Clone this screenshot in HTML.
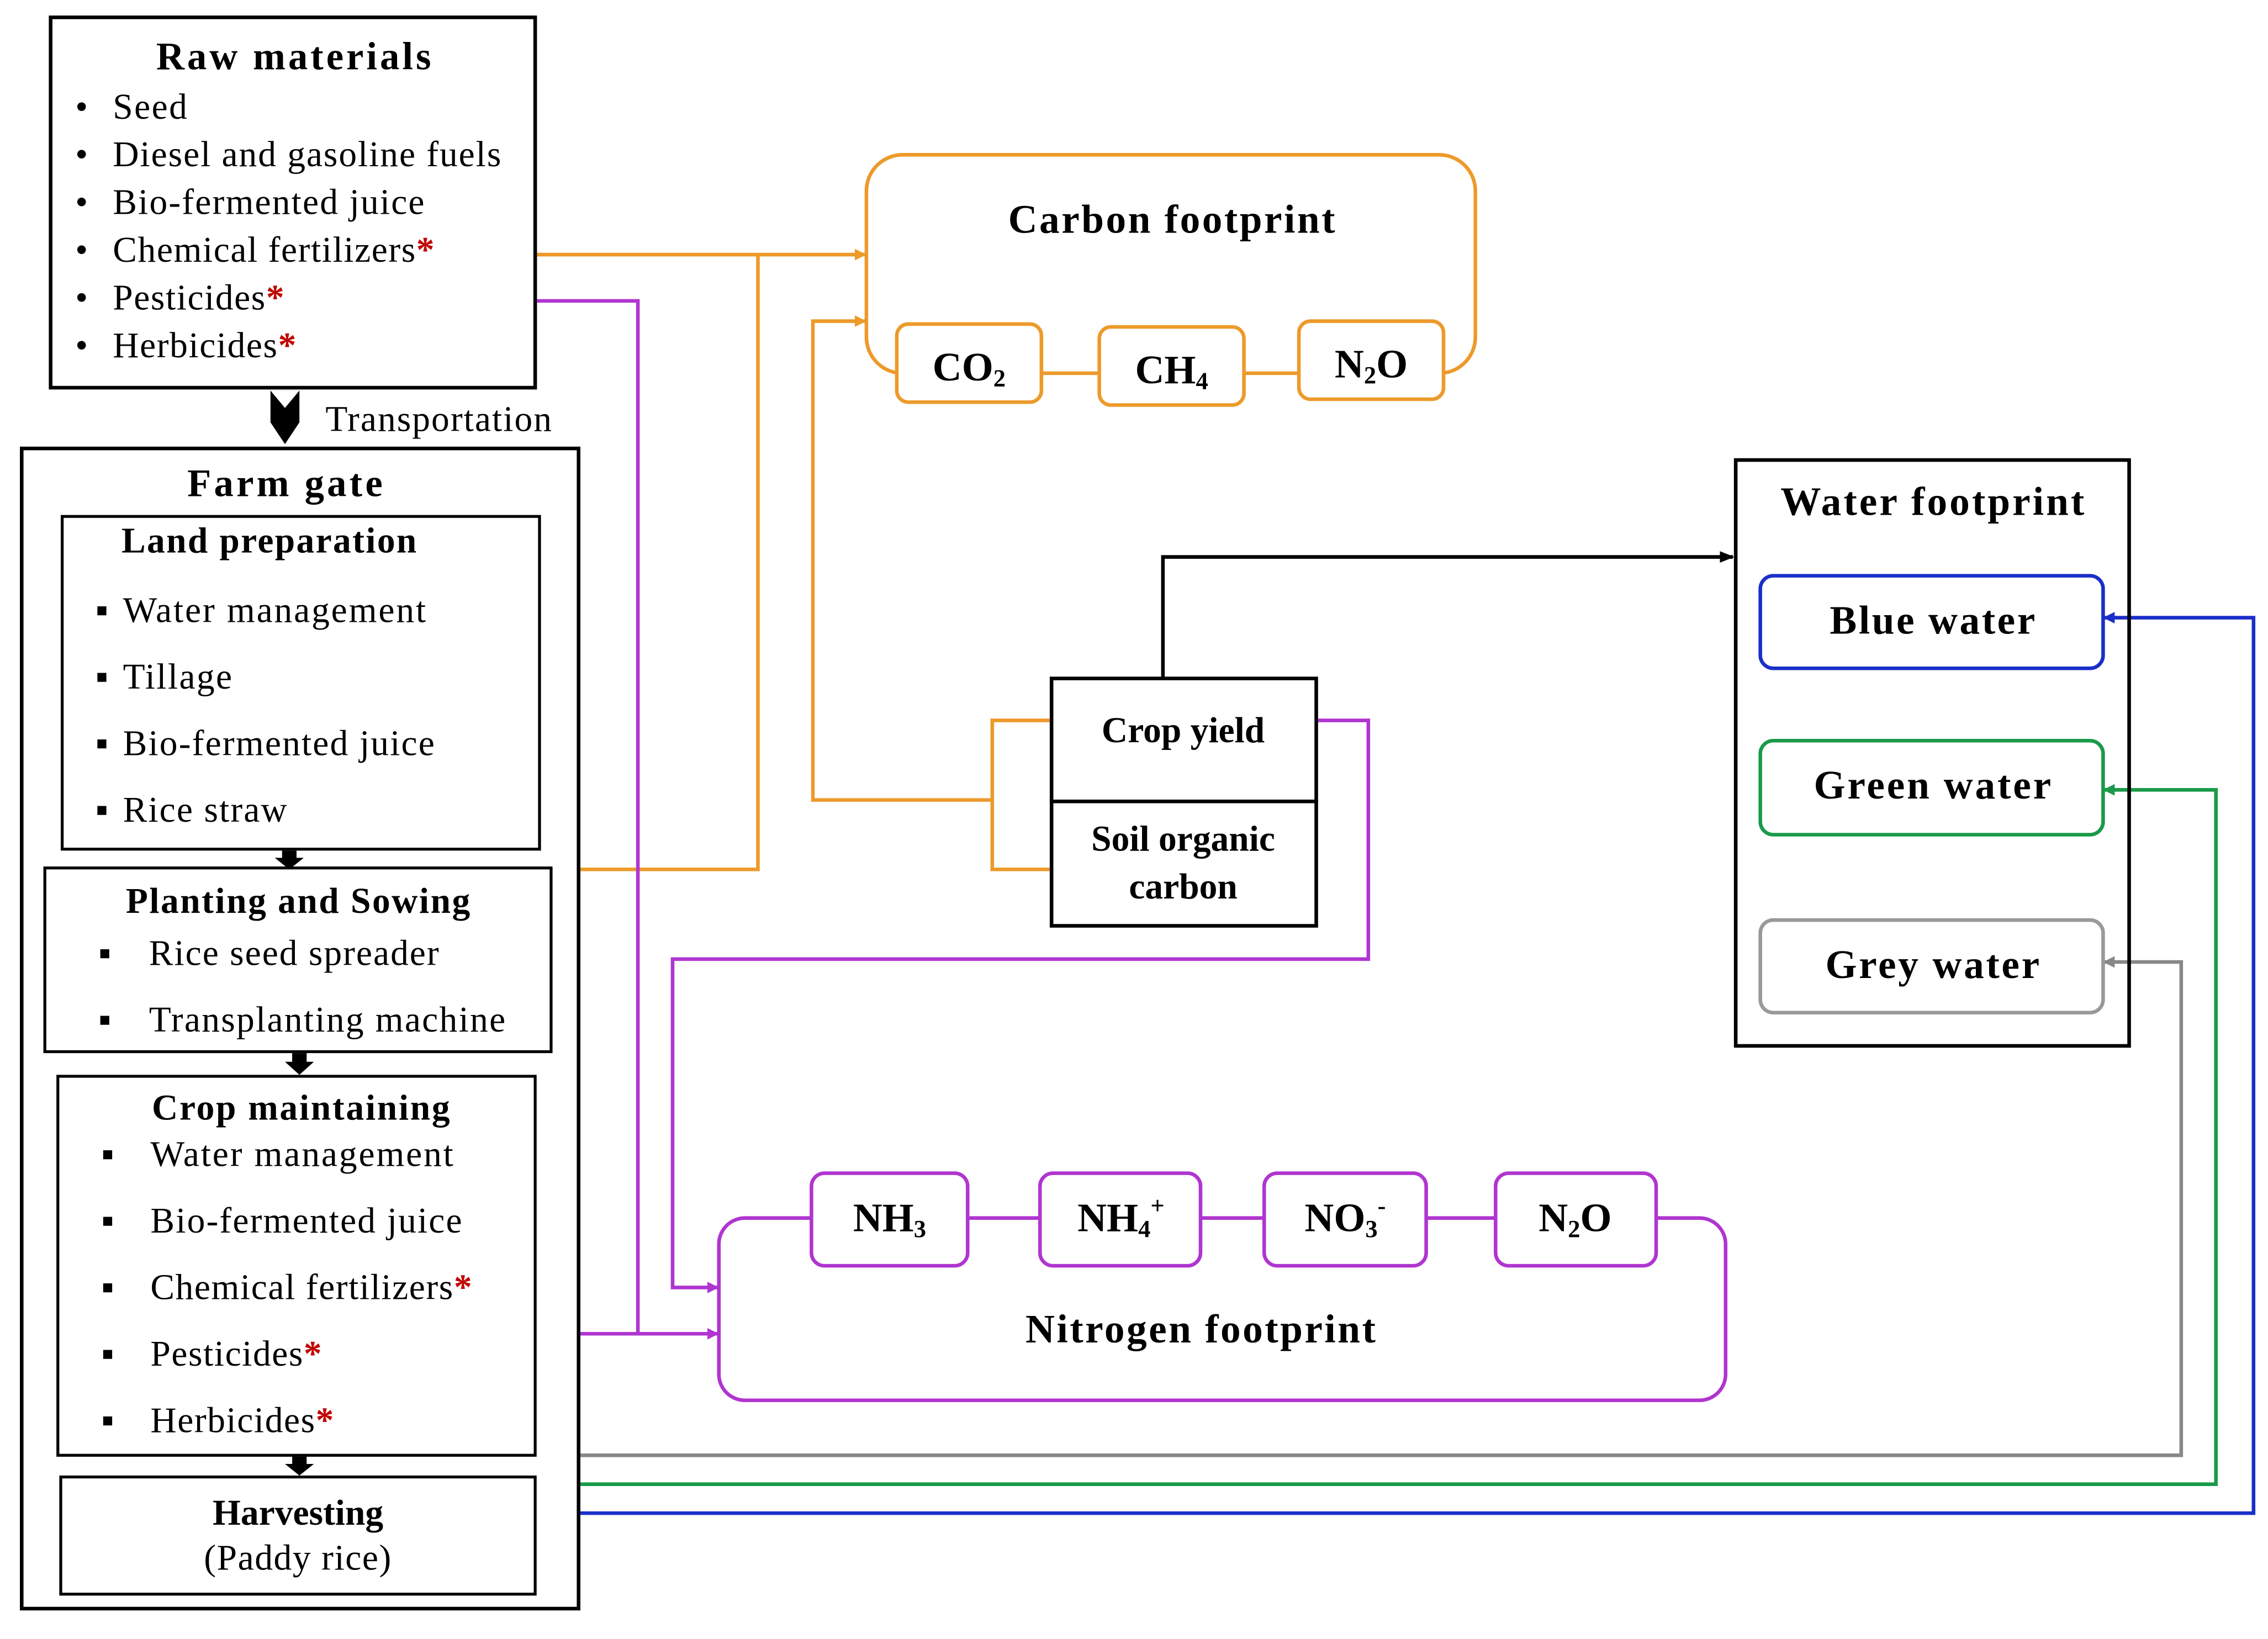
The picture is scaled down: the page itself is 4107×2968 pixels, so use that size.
<!DOCTYPE html>
<html><head><meta charset="utf-8"><style>
html,body{margin:0;padding:0;background:#fff;}
svg{display:block;}
svg text{font-family:"Liberation Serif","Times New Roman","DejaVu Serif",serif;fill:#000;}
.t{font-weight:bold;font-size:27px;}
.i{font-size:25px;letter-spacing:0.6px;}
.r{fill:#c00000;font-weight:bold;}
</style></head><body>
<svg width="4107" height="2968" viewBox="0 0 1568 1133" preserveAspectRatio="none" xmlns="http://www.w3.org/2000/svg" font-family="Liberation Serif, Times New Roman, serif">
<defs>
<marker id="ao" markerWidth="8" markerHeight="8" refX="7" refY="4" orient="auto" markerUnits="userSpaceOnUse"><path d="M0,0L8,4L0,8z" fill="#ED9A2A"/></marker>
<marker id="am" markerWidth="8" markerHeight="8" refX="7" refY="4" orient="auto" markerUnits="userSpaceOnUse"><path d="M0,0L8,4L0,8z" fill="#B035D0"/></marker>
<marker id="ak" markerWidth="10" markerHeight="8" refX="9" refY="4" orient="auto" markerUnits="userSpaceOnUse"><path d="M0,0L10,4L0,8z" fill="#000"/></marker>
<marker id="ab" markerWidth="8" markerHeight="8" refX="7" refY="4" orient="auto" markerUnits="userSpaceOnUse"><path d="M0,0L8,4L0,8z" fill="#1a2fc8"/></marker>
<marker id="ag" markerWidth="8" markerHeight="8" refX="7" refY="4" orient="auto" markerUnits="userSpaceOnUse"><path d="M0,0L8,4L0,8z" fill="#1a9a4a"/></marker>
<marker id="ay" markerWidth="8" markerHeight="8" refX="7" refY="4" orient="auto" markerUnits="userSpaceOnUse"><path d="M0,0L8,4L0,8z" fill="#888"/></marker>
</defs>
<g fill="none" stroke-width="2.5">
<polyline points="370,176 598,176" stroke="#ED9A2A" marker-end="url(#ao)"/>
<polyline points="400,601 524,601 524,176" stroke="#ED9A2A"/>
<polyline points="727,498 686,498 686,601 727,601" stroke="#ED9A2A"/>
<polyline points="686,553 562,553 562,222 598,222" stroke="#ED9A2A" marker-end="url(#ao)"/>
<polyline points="370,208 441,208 441,922" stroke="#B035D0"/>
<polyline points="400,922 496,922" stroke="#B035D0" marker-end="url(#am)"/>
<polyline points="910,498 946,498 946,663 465,663 465,890 496,890" stroke="#B035D0" marker-end="url(#am)"/>
<polyline points="804,469 804,385 1198,385" stroke="#000" marker-end="url(#ak)"/>
<polyline points="400,1006 1508,1006 1508,665 1455,665" stroke="#888" marker-end="url(#ay)"/>
<polyline points="400,1026 1532,1026 1532,546 1455,546" stroke="#1a9a4a" marker-end="url(#ag)"/>
<polyline points="400,1046 1558,1046 1558,427 1455,427" stroke="#1a2fc8" marker-end="url(#ab)"/>
<rect x="599" y="107" width="421" height="151" rx="25" stroke="#ED9A2A"/>
<rect x="620" y="224" width="100" height="54" rx="8" stroke="#ED9A2A" fill="#fff"/>
<rect x="760" y="226" width="100" height="54" rx="8" stroke="#ED9A2A" fill="#fff"/>
<rect x="898" y="222" width="100" height="54" rx="8" stroke="#ED9A2A" fill="#fff"/>
<rect x="497" y="842" width="696" height="126" rx="18" stroke="#B035D0"/>
<rect x="561" y="811" width="108" height="64" rx="9" stroke="#B035D0" fill="#fff"/>
<rect x="719" y="811" width="111" height="64" rx="9" stroke="#B035D0" fill="#fff"/>
<rect x="874" y="811" width="112" height="64" rx="9" stroke="#B035D0" fill="#fff"/>
<rect x="1034" y="811" width="111" height="64" rx="9" stroke="#B035D0" fill="#fff"/>
<rect x="1200" y="318" width="272" height="405" stroke="#000"/>
<rect x="1217" y="398" width="237" height="64" rx="9" stroke="#1a2fc8" fill="#fff"/>
<rect x="1217" y="512" width="237" height="65" rx="9" stroke="#1a9a4a" fill="#fff"/>
<rect x="1217" y="636" width="237" height="64" rx="9" stroke="#999" fill="#fff"/>
<rect x="727" y="469" width="183" height="85" stroke="#000" fill="#fff"/>
<rect x="727" y="554" width="183" height="86" stroke="#000" fill="#fff"/>
<rect x="35" y="12" width="335" height="256" stroke="#000"/>
<rect x="15" y="310" width="385" height="802" stroke="#000"/>
<rect x="43" y="357" width="330" height="230" stroke="#000" stroke-width="2"/>
<rect x="31" y="600" width="350" height="127" stroke="#000" stroke-width="2"/>
<rect x="40" y="744" width="330" height="262" stroke="#000" stroke-width="2"/>
<rect x="42" y="1021" width="328" height="81" stroke="#000" stroke-width="2"/>
</g>
<path d="M187,270 L207,270 L207,292 L197,307 L187,292 Z" fill="#000"/>
<path d="M187,270 L197,282 L207,270" fill="#fff"/>
<g fill="#000">
<path d="M195,588 L205,588 L205,593 L210,593 L200,601 L190,593 L195,593Z"/>
<path d="M202,728 L212,728 L212,734 L217,734 L207,743 L197,734 L202,734Z"/>
<path d="M202,1007 L212,1007 L212,1012 L217,1012 L207,1020 L197,1012 L202,1012Z"/>
</g>
<text x="203" y="48" class="t" text-anchor="middle" textLength="190">Raw materials</text>
<g class="i">
<text x="52" y="82">•</text><text x="78" y="82" textLength="52">Seed</text>
<text x="52" y="115">•</text><text x="78" y="115" textLength="269">Diesel and gasoline fuels</text>
<text x="52" y="148">•</text><text x="78" y="148" textLength="216">Bio-fermented juice</text>
<text x="52" y="181">•</text><text x="78" y="181">Chemical fertilizers<tspan class="r">*</tspan></text>
<text x="52" y="214">•</text><text x="78" y="214">Pesticides<tspan class="r">*</tspan></text>
<text x="52" y="247">•</text><text x="78" y="247">Herbicides<tspan class="r">*</tspan></text>
<text x="225" y="298" textLength="157">Transportation</text>
</g>
<text x="197" y="343" class="t" text-anchor="middle" textLength="135">Farm gate</text>
<text x="186" y="382" class="t" text-anchor="middle" style="font-size:25px" textLength="204">Land preparation</text>
<g class="i">
<text x="66" y="430">▪</text><text x="85" y="430" textLength="210">Water management</text>
<text x="66" y="476">▪</text><text x="85" y="476" textLength="76">Tillage</text>
<text x="66" y="522">▪</text><text x="85" y="522" textLength="216">Bio-fermented juice</text>
<text x="66" y="568">▪</text><text x="85" y="568" textLength="114">Rice straw</text>
</g>
<text x="206" y="631" class="t" text-anchor="middle" style="font-size:25px" textLength="238">Planting and Sowing</text>
<g class="i">
<text x="68" y="667">▪</text><text x="103" y="667" textLength="201">Rice seed spreader</text>
<text x="68" y="713">▪</text><text x="103" y="713" textLength="247">Transplanting machine</text>
</g>
<text x="208" y="774" class="t" text-anchor="middle" style="font-size:25px" textLength="206">Crop maintaining</text>
<g class="i">
<text x="70" y="806">▪</text><text x="104" y="806" textLength="210">Water management</text>
<text x="70" y="852">▪</text><text x="104" y="852" textLength="216">Bio-fermented juice</text>
<text x="70" y="898">▪</text><text x="104" y="898">Chemical fertilizers<tspan class="r">*</tspan></text>
<text x="70" y="944">▪</text><text x="104" y="944">Pesticides<tspan class="r">*</tspan></text>
<text x="70" y="990">▪</text><text x="104" y="990">Herbicides<tspan class="r">*</tspan></text>
</g>
<text x="206" y="1054" class="t" text-anchor="middle" style="font-size:25px">Harvesting</text>
<text x="206" y="1085" class="i" text-anchor="middle">(Paddy rice)</text>
<text x="810" y="161" class="t" text-anchor="middle" style="font-size:28px" textLength="226">Carbon footprint</text>
<text x="670" y="263" class="t" text-anchor="middle" style="font-size:28px">CO<tspan font-size="17" dy="4">2</tspan></text>
<text x="810" y="265" class="t" text-anchor="middle" style="font-size:28px">CH<tspan font-size="17" dy="4">4</tspan></text>
<text x="948" y="261" class="t" text-anchor="middle" style="font-size:28px">N<tspan font-size="17" dy="4">2</tspan><tspan dy="-4">O</tspan></text>
<text x="818" y="513" class="t" text-anchor="middle" style="font-size:25px">Crop yield</text>
<text x="818" y="588" class="t" text-anchor="middle" style="font-size:25px">Soil organic</text>
<text x="818" y="621" class="t" text-anchor="middle" style="font-size:25px">carbon</text>
<text x="615" y="851" class="t" text-anchor="middle" style="font-size:28px">NH<tspan font-size="17" dy="4">3</tspan></text>
<text x="775" y="851" class="t" text-anchor="middle" style="font-size:28px">NH<tspan font-size="17" dy="4">4</tspan><tspan font-size="17" dy="-16">+</tspan></text>
<text x="930" y="851" class="t" text-anchor="middle" style="font-size:28px">NO<tspan font-size="17" dy="4">3</tspan><tspan font-size="17" dy="-16">-</tspan></text>
<text x="1089" y="851" class="t" text-anchor="middle" style="font-size:28px">N<tspan font-size="17" dy="4">2</tspan><tspan dy="-4">O</tspan></text>
<text x="830" y="928" class="t" text-anchor="middle" style="font-size:28px" textLength="242">Nitrogen footprint</text>
<text x="1336" y="356" class="t" text-anchor="middle" style="font-size:28px" textLength="210">Water footprint</text>
<text x="1336" y="438" class="t" text-anchor="middle" style="font-size:28px" textLength="142">Blue water</text>
<text x="1336" y="552" class="t" text-anchor="middle" style="font-size:28px" textLength="164">Green water</text>
<text x="1336" y="676" class="t" text-anchor="middle" style="font-size:28px" textLength="148">Grey water</text>
</svg>
</body></html>
